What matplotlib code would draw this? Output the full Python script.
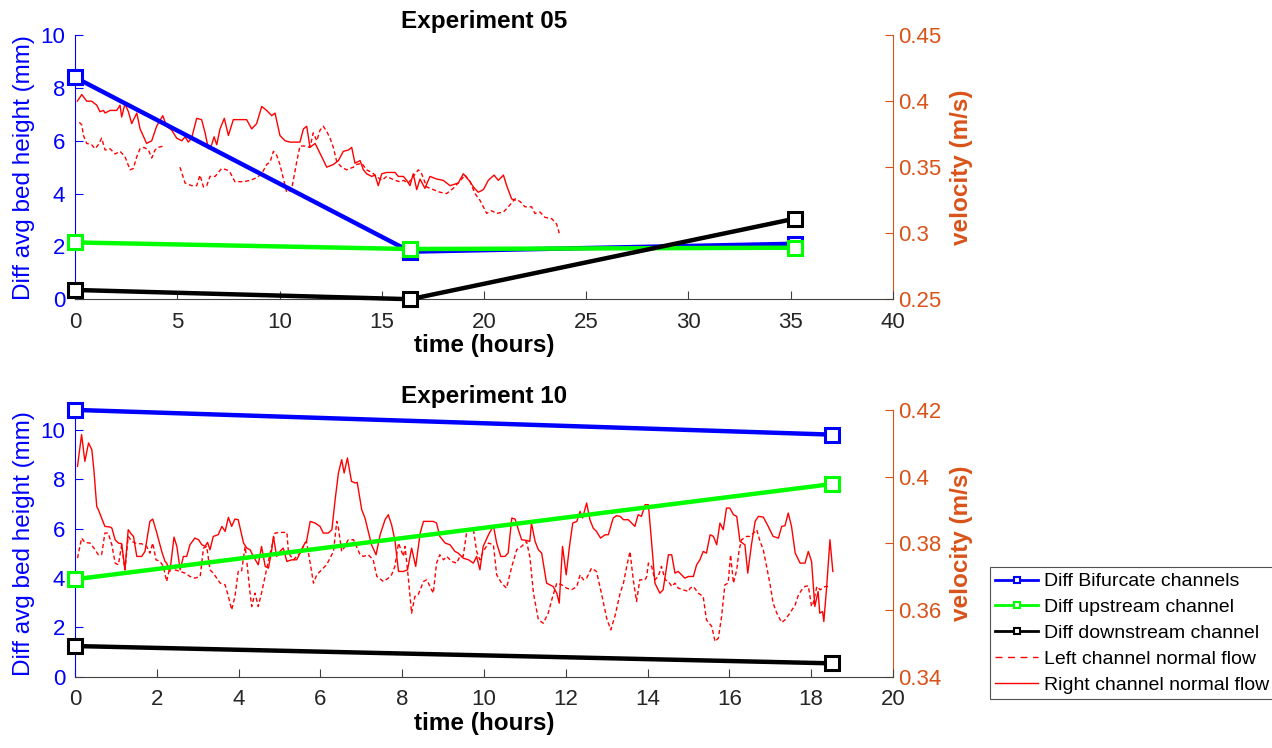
import numpy as np
import matplotlib
matplotlib.use("Agg")
import matplotlib.pyplot as plt
from matplotlib.lines import Line2D

plt.rcParams['font.family'] = ['Liberation Sans', 'DejaVu Sans']

# ---------------- Experiment 05 ----------------
exp05_t = [0.0, 16.4, 35.2]
exp05_bifurcate = [8.4, 1.8, 2.1]
exp05_upstream = [2.15, 1.9, 1.95]
exp05_downstream = [0.35, 0.0, 3.05]

exp05_right_t = [0.11, 0.33, 0.57, 0.81, 1.06, 1.22, 1.39, 1.47, 1.71, 2.04, 2.20, 2.28, 2.44,
                 2.61, 2.77, 3.02, 3.18, 3.50, 3.75, 3.99, 4.29, 4.48, 4.73, 4.97, 5.22, 5.38,
                 5.54, 5.70, 5.95, 6.19, 6.36, 6.52, 6.68, 6.80, 6.93, 7.09, 7.30, 7.50, 7.74,
                 8.07, 8.39, 8.64, 8.88, 9.13, 9.37, 9.62, 9.78, 10.02, 10.27, 10.51, 11.00,
                 11.17, 11.33, 11.49, 11.74, 12.06, 12.31, 12.63, 12.88, 13.12, 13.37, 13.53,
                 13.69, 13.94, 14.10, 14.26, 14.51, 14.67, 14.83, 15.00, 15.24, 15.65, 15.81,
                 16.06, 16.22, 16.38, 16.54, 16.71, 16.87, 17.11, 17.36, 17.69, 18.01, 18.34,
                 18.74, 18.99, 19.32, 19.48, 19.72, 19.97, 20.21, 20.49, 20.70, 20.95, 21.11,
                 21.35, 21.52]
exp05_right_v = [0.400, 0.405, 0.400, 0.400, 0.397, 0.392, 0.393, 0.391, 0.393, 0.393, 0.397,
                 0.388, 0.398, 0.392, 0.383, 0.391, 0.379, 0.368, 0.370, 0.381, 0.389, 0.381,
                 0.378, 0.372, 0.370, 0.373, 0.369, 0.372, 0.387, 0.386, 0.376, 0.364, 0.367,
                 0.373, 0.367, 0.379, 0.387, 0.374, 0.386, 0.386, 0.386, 0.379, 0.383, 0.396,
                 0.393, 0.389, 0.391, 0.374, 0.370, 0.369, 0.369, 0.379, 0.381, 0.365, 0.368,
                 0.358, 0.350, 0.352, 0.355, 0.362, 0.363, 0.365, 0.353, 0.355, 0.348, 0.345,
                 0.343, 0.344, 0.336, 0.345, 0.346, 0.346, 0.343, 0.343, 0.340, 0.336, 0.345,
                 0.333, 0.341, 0.334, 0.343, 0.341, 0.340, 0.336, 0.338, 0.345, 0.339, 0.335,
                 0.331, 0.333, 0.340, 0.344, 0.340, 0.344, 0.336, 0.326, 0.325]

exp05_left_t = [0.21, 0.33, 0.41, 0.57, 0.81, 0.98, 1.14, 1.30, 1.47, 1.71, 1.96, 2.20, 2.44,
                2.69, 2.85, 3.02, 3.18, 3.37, 3.59, 3.75, 3.91, 4.07, 4.32, 4.70, 5.13, 5.38,
                5.70, 5.95, 6.11, 6.28, 6.44, 6.60, 6.85, 7.17, 7.42, 7.58, 7.82, 8.23, 8.56,
                8.88, 9.13, 9.37, 9.54, 9.70, 9.86, 10.02, 10.35, 10.59, 10.84, 11.00, 11.25,
                11.49, 11.65, 11.82, 11.98, 12.14, 12.31, 12.47, 12.63, 12.80, 13.04, 13.28,
                13.61, 13.77, 14.02, 14.26, 14.51, 14.75, 15.00, 15.24, 15.65, 15.89, 16.06,
                16.30, 16.54, 16.79, 16.95, 17.20, 17.52, 17.85, 18.17, 18.50, 18.74, 19.07,
                19.32, 19.56, 19.80, 20.13, 20.37, 20.62, 20.95, 21.19, 21.52, 21.76, 22.00,
                22.33, 22.49, 22.74, 22.98, 23.31, 23.55, 23.68]
exp05_left_v = [0.384, 0.382, 0.374, 0.368, 0.367, 0.364, 0.367, 0.372, 0.363, 0.364, 0.360,
                0.362, 0.358, 0.348, 0.349, 0.358, 0.364, 0.365, 0.363, 0.357, 0.363, 0.365,
                0.366, np.nan, 0.350, 0.338, 0.336, 0.336, 0.344, 0.335, 0.336, 0.343, 0.343,
                0.349, 0.348, 0.346, 0.339, 0.339, 0.340, 0.342, 0.345, 0.352, 0.354, 0.362,
                0.359, 0.352, 0.331, 0.333, 0.354, 0.366, 0.366, 0.365, 0.376, 0.370, 0.378,
                0.381, 0.377, 0.372, 0.365, 0.354, 0.350, 0.348, 0.350, 0.352, 0.353, 0.348,
                0.346, 0.343, 0.340, 0.343, 0.340, 0.339, 0.340, 0.338, 0.343, 0.348, 0.345,
                0.335, 0.333, 0.331, 0.330, 0.334, 0.338, 0.344, 0.339, 0.330, 0.325, 0.315,
                0.317, 0.315, 0.316, 0.320, 0.326, 0.324, 0.320, 0.320, 0.315, 0.316, 0.312,
                0.311, 0.307, 0.300]

# ---------------- Experiment 10 ----------------
exp10_t = [0.0, 18.5]
exp10_bifurcate = [10.8, 9.8]
exp10_upstream = [3.95, 7.8]
exp10_downstream = [1.25, 0.55]

exp10_right_t = [0.06, 0.16, 0.24, 0.33, 0.41, 0.46, 0.53, 0.57, 0.65, 0.73, 0.86, 0.90, 0.98,
                 1.06, 1.14, 1.22, 1.30, 1.39, 1.43, 1.51, 1.63, 1.71, 1.83, 1.90, 2.00, 2.12,
                 2.20, 2.24, 2.32, 2.42, 2.49, 2.57, 2.65, 2.73, 2.81, 2.93, 3.02, 3.10, 3.18,
                 3.24, 3.30, 3.38, 3.50, 3.59, 3.67, 3.75, 3.83, 3.91, 3.99, 4.12, 4.20, 4.28,
                 4.36, 4.48, 4.56, 4.65, 4.73, 4.81, 4.85, 4.93, 5.01, 5.09, 5.18, 5.30, 5.42,
                 5.54, 5.62, 5.66, 5.75, 5.87, 5.99, 6.07, 6.19, 6.28, 6.36, 6.44, 6.52, 6.58,
                 6.66, 6.76, 6.85, 6.90, 7.01, 7.09, 7.17, 7.25, 7.36, 7.46, 7.58, 7.66, 7.74,
                 7.82, 7.91, 8.03, 8.13, 8.23, 8.33, 8.44, 8.52, 8.64, 8.76, 8.84, 8.92, 9.05,
                 9.17, 9.29, 9.37, 9.49, 9.62, 9.74, 9.82, 9.90, 9.98, 10.11, 10.23, 10.31,
                 10.41, 10.51, 10.59, 10.68, 10.76, 10.84, 10.92, 11.04, 11.12, 11.16, 11.25,
                 11.33, 11.41, 11.53, 11.61, 11.69, 11.78, 11.84, 11.92, 12.01, 12.09, 12.17,
                 12.27, 12.35, 12.41, 12.51, 12.59, 12.67, 12.75, 12.85, 12.96, 13.04, 13.16,
                 13.24, 13.33, 13.41, 13.53, 13.61, 13.69, 13.77, 13.85, 13.94, 14.02, 14.10,
                 14.18, 14.30, 14.38, 14.51, 14.59, 14.67, 14.75, 14.83, 14.91, 15.00, 15.12,
                 15.20, 15.28, 15.36, 15.44, 15.53, 15.61, 15.69, 15.77, 15.85, 15.93, 16.01,
                 16.10, 16.18, 16.26, 16.38, 16.45, 16.54, 16.63, 16.71, 16.83, 16.95, 17.07,
                 17.20, 17.28, 17.36, 17.44, 17.52, 17.61, 17.73, 17.85, 17.93, 18.01, 18.09,
                 18.17, 18.21, 18.28, 18.31, 18.38, 18.46, 18.53]
exp10_right_v = [0.4031, 0.4126, 0.4046, 0.4101, 0.4081, 0.4021, 0.3911, 0.3901, 0.3876, 0.3851,
                 0.3849, 0.3846, 0.3811, 0.3801, 0.3799, 0.3721, 0.3841, 0.3826, 0.3821, 0.3761,
                 0.3761, 0.3776, 0.3866, 0.3873, 0.3831, 0.3776, 0.3746, 0.3741, 0.3716, 0.3819,
                 0.3791, 0.3721, 0.3761, 0.3761, 0.3796, 0.3816, 0.3811, 0.3796, 0.3791, 0.3803,
                 0.3781, 0.3821, 0.3826, 0.3851, 0.3836, 0.3878, 0.3851, 0.3873, 0.3871, 0.3801,
                 0.3786, 0.3781, 0.3761, 0.3736, 0.3791, 0.3731, 0.3726, 0.3781, 0.3821, 0.3761,
                 0.3776, 0.3786, 0.3746, 0.3751, 0.3751, 0.3781, 0.3801, 0.3806, 0.3866, 0.3861,
                 0.3851, 0.3831, 0.3831, 0.3841, 0.3931, 0.4011, 0.4051, 0.4011, 0.4056, 0.3986,
                 0.3981, 0.3983, 0.3901, 0.3876, 0.3836, 0.3796, 0.3766, 0.3826, 0.3871, 0.3886,
                 0.3856, 0.3811, 0.3716, 0.3716, 0.3721, 0.3786, 0.3731, 0.3831, 0.3866, 0.3866,
                 0.3866, 0.3861, 0.3821, 0.3801, 0.3796, 0.3776, 0.3771, 0.3756, 0.3751, 0.3741,
                 0.3761, 0.3721, 0.3791, 0.3826, 0.3853, 0.3801, 0.3761, 0.3761, 0.3771, 0.3876,
                 0.3873, 0.3841, 0.3811, 0.3809, 0.3806, 0.3861, 0.3806, 0.3781, 0.3771, 0.3681,
                 0.3676, 0.3671, 0.3651, 0.3621, 0.3791, 0.3706, 0.3791, 0.3861, 0.3866, 0.3896,
                 0.3876, 0.3921, 0.3871, 0.3846, 0.3836, 0.3816, 0.3826, 0.3826, 0.3876, 0.3883,
                 0.3881, 0.3871, 0.3871, 0.3861, 0.3851, 0.3886, 0.3881, 0.3916, 0.3916, 0.3801,
                 0.3681, 0.3651, 0.3661, 0.3766, 0.3766, 0.3711, 0.3716, 0.3706, 0.3696, 0.3701,
                 0.3701, 0.3736, 0.3751, 0.3776, 0.3771, 0.3826, 0.3821, 0.3796, 0.3861, 0.3841,
                 0.3906, 0.3906, 0.3886, 0.3881, 0.3806, 0.3796, 0.3711, 0.3796, 0.3866, 0.3881,
                 0.3879, 0.3851, 0.3821, 0.3816, 0.3851, 0.3853, 0.3891, 0.3851, 0.3771, 0.3741,
                 0.3741, 0.3776, 0.3746, 0.3611, 0.3656, 0.3591, 0.3596, 0.3566, 0.3671, 0.3811,
                 0.3716]

exp10_left_t = [0.06, 0.16, 0.24, 0.37, 0.49, 0.57, 0.65, 0.73, 0.81, 0.90, 0.98, 1.06, 1.14,
                1.22, 1.30, 1.39, 1.51, 1.63, 1.75, 1.83, 1.90, 1.98, 2.08, 2.16, 2.24, 2.32,
                2.44, 2.57, 2.69, 2.81, 2.93, 3.06, 3.14, 3.22, 3.30, 3.38, 3.55, 3.67, 3.75,
                3.83, 3.91, 3.99, 4.07, 4.16, 4.20, 4.28, 4.32, 4.40, 4.48, 4.56, 4.69, 4.81,
                4.89, 5.01, 5.18, 5.22, 5.34, 5.50, 5.58, 5.66, 5.75, 5.83, 5.91, 6.03, 6.15,
                6.32, 6.40, 6.44, 6.52, 6.60, 6.68, 6.81, 6.97, 7.05, 7.17, 7.29, 7.38, 7.54,
                7.66, 7.74, 7.82, 7.91, 8.03, 8.07, 8.15, 8.23, 8.31, 8.39, 8.52, 8.60, 8.68,
                8.76, 8.84, 8.92, 9.01, 9.09, 9.21, 9.33, 9.41, 9.49, 9.58, 9.66, 9.74, 9.82,
                9.90, 9.98, 10.11, 10.23, 10.31, 10.43, 10.55, 10.68, 10.80, 10.92, 11.04,
                11.12, 11.21, 11.33, 11.45, 11.57, 11.68, 11.78, 11.90, 12.02, 12.14, 12.27,
                12.35, 12.43, 12.51, 12.63, 12.75, 12.88, 13.00, 13.10, 13.20, 13.33, 13.41,
                13.49, 13.57, 13.65, 13.73, 13.81, 13.94, 13.98, 14.02, 14.10, 14.18, 14.26,
                14.34, 14.43, 14.51, 14.59, 14.67, 14.75, 14.87, 15.00, 15.04, 15.12, 15.24,
                15.36, 15.44, 15.57, 15.65, 15.73, 15.81, 15.89, 15.97, 16.03, 16.10, 16.18,
                16.24, 16.30, 16.42, 16.50, 16.59, 16.67, 16.75, 16.83, 16.91, 16.99, 17.07,
                17.16, 17.28, 17.36, 17.48, 17.61, 17.69, 17.77, 17.85, 17.93, 18.01, 18.05,
                18.14, 18.22, 18.34, 18.46]
exp10_left_v = [0.3756, 0.3816, 0.3803, 0.3801, 0.3781, 0.3766, 0.3766, 0.3831, 0.3831, 0.3796,
                0.3741, 0.3736, 0.3796, 0.3721, 0.3821, 0.3806, 0.3799, 0.3799, 0.3791, 0.3771,
                0.3801, 0.3751, 0.3746, 0.3731, 0.3686, 0.3731, 0.3721, 0.3716, 0.3711, 0.3701,
                0.3696, 0.3701, 0.3786, 0.3791, 0.3721, 0.3711, 0.3681, 0.3676, 0.3641, 0.3601,
                0.3641, 0.3716, 0.3716, 0.3791, 0.3746, 0.3651, 0.3611, 0.3651, 0.3611, 0.3651,
                0.3726, 0.3791, 0.3831, 0.3833, 0.3833, 0.3771, 0.3751, 0.3771, 0.3791, 0.3806,
                0.3741, 0.3681, 0.3706, 0.3721, 0.3736, 0.3776, 0.3866, 0.3846, 0.3776, 0.3791,
                0.3811, 0.3811, 0.3766, 0.3761, 0.3766, 0.3751, 0.3701, 0.3686, 0.3696, 0.3706,
                0.3731, 0.3801, 0.3761, 0.3791, 0.3696, 0.3591, 0.3641, 0.3646, 0.3686, 0.3691,
                0.3671, 0.3651, 0.3741, 0.3766, 0.3751, 0.3761, 0.3746, 0.3741, 0.3761, 0.3761,
                0.3836, 0.3841, 0.3843, 0.3776, 0.3751, 0.3776, 0.3801, 0.3796, 0.3706, 0.3681,
                0.3666, 0.3731, 0.3781, 0.3791, 0.3806, 0.3761, 0.3651, 0.3571, 0.3561, 0.3591,
                0.3641, 0.3681, 0.3676, 0.3666, 0.3661, 0.3671, 0.3706, 0.3691, 0.3696, 0.3726,
                0.3716, 0.3646, 0.3576, 0.3541, 0.3581, 0.3651, 0.3681, 0.3731, 0.3776, 0.3691,
                0.3626, 0.3691, 0.3691, 0.3701, 0.3741, 0.3731, 0.3691, 0.3701, 0.3731, 0.3691,
                0.3686, 0.3671, 0.3681, 0.3666, 0.3661, 0.3656, 0.3666, 0.3671, 0.3651, 0.3641,
                0.3571, 0.3551, 0.3506, 0.3516, 0.3581, 0.3676, 0.3681, 0.3766, 0.3681, 0.3721,
                0.3781, 0.3811, 0.3821, 0.3821, 0.3831, 0.3841, 0.3806, 0.3781, 0.3731, 0.3681,
                0.3621, 0.3591, 0.3563, 0.3571, 0.3591, 0.3616, 0.3646, 0.3661, 0.3671, 0.3673,
                0.3611, 0.3621, 0.3671, 0.3661, 0.3671, 0.3671]

legend_labels = ["Diff Bifurcate channels", "Diff upstream channel", "Diff downstream channel",
                 "Left channel normal flow", "Right channel normal flow"]

BLUE = "#0000ff"
GREEN = "#00ff00"
BLACK = "#000000"
RED = "#ff0000"
ORANGE = "#d95319"
AXGRAY = "#404040"


def draw_panel(ax, title, t, bif, up, down, lt, lv, rt, rv, xlim, xticks, ylim_l, ylim_r, rticks):
    ax2 = ax.twinx()
    ax2.plot(lt, lv, color=RED, lw=1.0, ls=(0, (3, 2)))
    ax2.plot(rt, rv, color=RED, lw=1.0)
    for vals, col in ((bif, BLUE), (up, GREEN), (down, BLACK)):
        ax.plot(t, vals, color=col, lw=3.2, marker='s', ms=10, mfc='white',
                mec=col, mew=2.2, clip_on=False, zorder=3)
    ax.set_zorder(ax2.get_zorder() + 1)
    ax.patch.set_visible(False)

    ax.set_xlim(*xlim)
    ax.set_xticks(xticks)
    ax.set_ylim(*ylim_l)
    ax.set_yticks([0, 2, 4, 6, 8, 10])
    ax2.set_ylim(*ylim_r)
    ax2.set_yticks(rticks)
    ax2.set_yticklabels([f"{v:g}" for v in rticks])

    for a in (ax, ax2):
        a.spines['top'].set_visible(False)
        a.tick_params(direction='in', labelsize=16, length=6)
    ax.spines['right'].set_visible(False)
    ax.spines['left'].set_color(BLUE)
    ax.spines['bottom'].set_color(AXGRAY)
    ax2.spines['left'].set_visible(False)
    ax2.spines['right'].set_color(ORANGE)
    ax2.spines['bottom'].set_visible(False)
    ax.tick_params(axis='y', colors=BLUE, pad=7)
    ax.tick_params(axis='x', colors=AXGRAY, labelcolor='#262626', pad=9)
    ax2.tick_params(axis='y', colors=ORANGE, pad=4)

    ax.set_title(title, fontsize=17.5, fontweight='bold', pad=5)
    ax.set_xlabel("time (hours)", fontsize=17.5, fontweight='bold', labelpad=1)
    ax.set_ylabel("Diff avg bed height (mm)", fontsize=17.5, color=BLUE, labelpad=4)
    ax2.set_ylabel("velocity (m/s)", fontsize=17.5, fontweight='bold', color=ORANGE, labelpad=6)
    return ax2


fig = plt.figure(figsize=(12.72, 7.48), dpi=100)
ax_top = fig.add_axes([0.059, 0.600, 0.643, 0.353])
ax_bot = fig.add_axes([0.059, 0.095, 0.643, 0.357])

draw_panel(ax_top, "Experiment 05", exp05_t, exp05_bifurcate, exp05_upstream, exp05_downstream,
           exp05_left_t, exp05_left_v, exp05_right_t, exp05_right_v,
           (0, 40), range(0, 41, 5), (0, 10), (0.25, 0.45), [0.25, 0.3, 0.35, 0.4, 0.45])
draw_panel(ax_bot, "Experiment 10", exp10_t, exp10_bifurcate, exp10_upstream, exp10_downstream,
           exp10_left_t, exp10_left_v, exp10_right_t, exp10_right_v,
           (0, 20), range(0, 21, 2), (0, 10.8), (0.34, 0.42), [0.34, 0.36, 0.38, 0.4, 0.42])

handles = [
    Line2D([], [], color=BLUE, lw=2, marker='s', ms=5, mfc='white', mec=BLUE, mew=1.5),
    Line2D([], [], color=GREEN, lw=2, marker='s', ms=5, mfc='white', mec=GREEN, mew=1.5),
    Line2D([], [], color=BLACK, lw=2, marker='s', ms=5, mfc='white', mec=BLACK, mew=1.5),
    Line2D([], [], color=RED, lw=1, ls=(0, (5, 4))),
    Line2D([], [], color=RED, lw=1),
]
leg = fig.legend(handles, legend_labels, loc='upper left', bbox_to_anchor=(0.778, 0.242),
                 fontsize=14, frameon=True, fancybox=False, edgecolor='#262626',
                 handlelength=2.2, handletextpad=0.3, borderpad=0.3, labelspacing=0.42,
                 borderaxespad=0)
leg.get_frame().set_linewidth(0.8)

fig.savefig("out.png", dpi=100)
